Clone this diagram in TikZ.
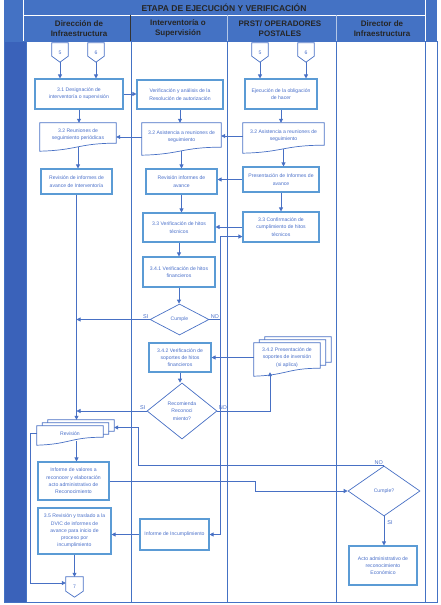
\documentclass[tikz,border=0pt]{standalone}
\usepackage{fontspec}
\setmainfont{Liberation Sans}
\usetikzlibrary{calc,shapes.geometric,arrows.meta,backgrounds}

\definecolor{tabla}{RGB}{68,114,196}
\definecolor{franja}{RGB}{58,98,186}
\definecolor{borde}{RGB}{91,155,213}
\definecolor{linea}{RGB}{72,112,196}
\definecolor{texto}{RGB}{72,110,200}

\newcommand{\letra}{\fontsize{5.1}{7.3}\selectfont}

\tikzset{
	caja/.style={draw=borde, line width=1.1pt, text=texto, font=\letra, align=center, inner sep=1pt},
	docu/.style={text=texto, font=\letra, align=center, inner sep=1pt},
	conec/.style={text=texto, font=\letra, minimum width=16pt, minimum height=19pt, inner sep=0pt},
	rombo/.style={diamond, draw=linea, line width=0.7pt, text=texto, font=\letra, align=center, inner sep=0pt},
	cabeza/.style={font=\fontsize{8}{10.5}\selectfont\bfseries, align=center, text=black!85},
	flecha/.style={draw=linea, line width=0.8pt, -{Triangle[length=4pt,width=4pt]}},
	traza/.style={draw=linea, line width=0.8pt},
	contorno/.style={draw=linea, line width=0.7pt},
	etiq/.style={text=texto, font=\fontsize{5.5}{6}\selectfont, inner sep=1pt},
}

% documento con borde ondulado, desplazado por #3
\newcommand{\documento}[3][]{%
	\draw[contorno,#1] ($(#2.north west)+(#3)$) -- ($(#2.north east)+(#3)$) -- ($(#2.south east)+(#3)+(0,-4)$)
		.. controls ($(#2.south)+(#3)+(0,-4)$) and ($(#2.south)+(#3)+(0,3)$) .. ($(#2.south west)+(#3)+(0,4)$) -- cycle;}
% varios documentos apilados
\newcommand{\multidoc}[1]{%
	\begin{scope}[on background layer]
		\documento[fill=white]{#1}{11,-6}
		\documento[fill=white]{#1}{5.5,-3}
		\documento[fill=white]{#1}{0,0}
	\end{scope}}
% conector de otra pagina
\newcommand{\conector}[1]{%
	\draw[contorno] (#1.north west) -- (#1.north east) -- ($(#1.south east)+(0,-6)$) -- (#1.south) -- ($(#1.south west)+(0,-6)$) -- cycle;}

\begin{document}
\begin{tikzpicture}[x=1pt,y=-1pt]
	\useasboundingbox (0,0) rectangle (441,605);

	% La tabla
		\fill[tabla] (4,0) rectangle (437,41);
		\fill[franja] (4,41) rectangle (26,602);
		\draw[white,line width=0.8pt] (23,0) -- (23,41) (425,0) -- (425,41) (23,15) -- (425,15);
		\draw[black!80,line width=0.6pt] (130,15) -- (130,41);
		\draw[white!60!tabla,line width=0.5pt] (227,15) -- (227,41) (336,15) -- (336,41);
		\draw[tabla,line width=0.9pt] (4,41) rectangle (437,602);
		\foreach \x in {26,131,227,336,425} \draw[tabla,line width=0.9pt] (\x,41) -- (\x,602);

		\node[font=\fontsize{8.5}{10}\selectfont\bfseries, text=black!85] (titulo) at (224,7.5) {ETAPA DE EJECUCIÓN Y VERIFICACIÓN};
		\node[cabeza] (h1) at (79,28.5) {Dirección de\\Infraestructura};
		\node[cabeza] (h2) at (178,28.5) {Interventoría o\\Supervisión};
		\node[cabeza] (h3) at (280,28.5) {PRST/ OPERADORES\\POSTALES};
		\node[cabeza] (h4) at (382,28.5) {Director de\\Infraestructura};

	% Direccion de Infraestructura
		\node[conec] (d5) at (60,52.5) {5};
		\node[conec] (d6) at (96,52.5) {6};
		\node[caja, minimum width=88pt, minimum height=30pt] (c31) at (79,94) {3.1 Designación  de\\ interventoría o supervisión};
		\node[docu, minimum width=76pt, minimum height=24pt] (d32) at (78,135) {3.2 Reuniones de\\ seguimiento periódicas};
		\node[caja, minimum width=71pt, minimum height=25pt] (rvi) at (76.5,181.5) {Revisión de informes de\\ avance de Interventoría};
		\node[docu, minimum width=66pt, minimum height=15pt] (rev) at (70,433.5) {Revisión};
		\node[caja, minimum width=71pt, minimum height=38pt] (ivr) at (73.5,481) {Informe de valores a\\ reconocer  y elaboración\\ acto administrativo  de\\ Reconocimiento};
		\node[caja, minimum width=73pt, minimum height=46pt] (c35) at (74.5,531) {3.5 Revisión y traslado a la\\ DVIC de informes de\\ avance para inicio de\\ proceso por\\ incumplimiento};
		\node[conec, minimum width=17pt, minimum height=20pt] (d7) at (74.5,587) {7};

	% Interventoria
		\node[caja, minimum width=86pt, minimum height=29pt] (vra) at (180,94.5) {Verificación y análisis de la\\ Resolución de autorización};
		\node[docu, minimum width=79pt, minimum height=28pt] (ar1) at (181.5,137) {3.2 Asistencia a reuniones de\\ seguimiento};
		\node[caja, minimum width=71pt, minimum height=25pt] (ria) at (181.5,181.5) {Revisión informes de\\ avance};
		\node[caja, minimum width=72pt, minimum height=29pt] (v33) at (179,227.5) {3.3 Verificación de hitos\\ técnicos};
		\node[caja, minimum width=72pt, minimum height=30pt] (v341) at (179,272) {3.4.1 Verificación de hitos\\ financieros};
		\node[rombo, minimum width=59pt, minimum height=31pt] (cum) at (179.5,319.5) {Cumple};
		\node[caja, minimum width=62pt, minimum height=29pt] (v342) at (180,357.5) {3.4.2  Verificación de\\ soportes de hitos\\ financieros};
		\node[rombo, minimum width=70pt, minimum height=56pt] (rec) at (182,411) {Recomienda\\ Reconoci\\ miento?};
		\node[caja, minimum width=69pt, minimum height=31pt] (iin) at (174.5,534.5) {Informe de Incumplimiento};

	% PRST
		\node[conec] (p5) at (260,52.5) {5};
		\node[conec] (p6) at (306,52.5) {6};
		\node[caja, minimum width=72pt, minimum height=30pt] (eje) at (281,94) {Ejecución de la obligación\\ de hacer};
		\node[docu, minimum width=81pt, minimum height=26pt] (ar2) at (283.5,136) {3.2 Asistencia a reuniones de\\ seguimiento};
		\node[caja, minimum width=76pt, minimum height=25pt] (pia) at (281,179.5) {Presentación de Informes de\\ avance};
		\node[caja, minimum width=76pt, minimum height=30pt] (c33) at (281,227) {3.3 Confirmación de\\ cumplimiento de hitos\\ técnicos};
		\node[docu, minimum width=66pt, minimum height=29pt] (psi) at (287,357.5) {3.4.2 Presentación de\\ soportes de inversión\\ (si aplica)};

	% Director
		\node[rombo, minimum width=72pt, minimum height=50pt] (cum2) at (384,491) {Cumple?};
		\node[caja, minimum width=68pt, minimum height=39pt] (aar) at (383,565.5) {Acto administrativo de\\ reconocimiento\\ Económico};

	% Contornos
		\conector{d5} \conector{d6} \conector{p5} \conector{p6} \conector{d7}
		\documento{d32}{0,0} \documento{ar1}{0,0} \documento{ar2}{0,0}
		\multidoc{rev} \multidoc{psi}

	% Flechas
		\draw[flecha] (d5.south) -- (d5.south |- c31.north);
		\draw[flecha] (d6.south) -- (d6.south |- c31.north);
		\draw[flecha] (p5.south) -- (p5.south |- eje.north);
		\draw[flecha] (p6.south) -- (p6.south |- eje.north);
		\draw[flecha] (c31.east) -- (c31.east -| vra.west);
		\draw[flecha] (c31.south) -- (c31.south |- d32.north);
		\draw[flecha] (vra.south) -- (vra.south |- ar1.north);
		\draw[flecha] (eje.south) -- (eje.south |- ar2.north);
		\draw[flecha] (ar1.west) -- (ar1.west -| d32.east);
		\draw[flecha] (ar2.west) -- (ar2.west -| ar1.east);
		\draw[flecha] (d32.south) -- (d32.south |- rvi.north);
		\draw[flecha] (ar1.south) -- (ar1.south |- ria.north);
		\draw[flecha] (ar2.south) -- (ar2.south |- pia.north);
		\draw[flecha] (pia.west) -- (pia.west -| ria.east);
		\draw[flecha] (pia.south) -- (pia.south |- c33.north);
		\draw[flecha] (ria.south) -- (ria.south |- v33.north);
		\draw[flecha] (c33.west) -- (c33.west -| v33.east);
		\draw[flecha] (v33.south) -- (v33.south |- v341.north);
		\draw[flecha] (v341.south) -- (v341.south |- cum.north);

		\coordinate (revtop) at ($(rev.north)+(11,-6)$);
		\coordinate (revbe) at ($(rev.east)+(11,-6)$);
		\coordinate (jno) at (220,319.5);
		\coordinate (c33in) at ($(c33.south west)+(0,-6)$);

		\draw[flecha] (rvi.south) -- (rvi.south |- revtop);
		\draw[flecha] (cum.west) -- (cum.west -| rvi.south) node[etiq, pos=0, above left] {SI};
		\draw[traza] (cum.east) -- (jno) node[etiq, pos=0, above right] {NO};
		\draw[flecha] (jno) |- (c33in);
		\draw[flecha] (jno) |- (iin.east);
		\draw[flecha] (iin.west) -- (iin.west -| c35.east);
		\draw[flecha] (psi.west) -- (psi.west -| v342.east);
		\draw[flecha] (v342.south) -- (v342.south |- rec.north);
		\draw[flecha] (rec.west) -- (rec.west -| rvi.south) node[etiq, pos=0, above left] {SI};
		\draw[flecha] (rec.east) -| ([xshift=-17pt]psi.south) node[etiq, pos=0, above right] {NO};
		\draw[flecha] (rvi.south |- rev.south) -- (rvi.south |- ivr.north);
		\draw[flecha] (rev.west) -- ++(-6,0) |- ($(d7.west)+(0,-4)$);
		\draw[flecha] (c35.south) -- (c35.south |- d7.north);
		\draw[flecha] (ivr.east) -- ++(146,0) |- (cum2.west);
		\draw[flecha] (cum2.north) -| ($(revbe)+(24,0)$) -- (revbe);
		\node[etiq, above left] (no2) at (cum2.north) {NO};
		\draw[flecha] (cum2.south) -- (cum2.south |- aar.north) node[etiq, pos=0.2, right=2pt] {SI};
\end{tikzpicture}
\end{document}
